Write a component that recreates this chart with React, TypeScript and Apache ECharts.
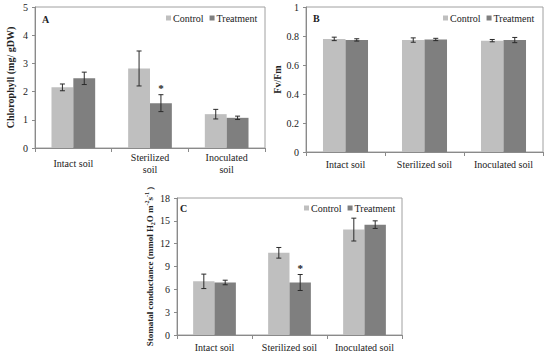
import React, { useEffect, useRef } from "react";
import * as echarts from "echarts";

const categoriesA = ["Intact soil", "Sterilized\nsoil", "Inoculated\nsoil"];
const categoriesBC = ["Intact soil", "Sterilized soil", "Inoculated soil"];

const chlControl = [2.15, 2.82, 1.2];
const chlControlErr = [0.12, 0.62, 0.17];
const chlTreat = [2.47, 1.59, 1.07];
const chlTreatErr = [0.22, 0.3, 0.06];
const chlTreatStar = [0, 1, 0];

const fvControl = [0.78, 0.772, 0.768];
const fvControlErr = [0.012, 0.015, 0.008];
const fvTreat = [0.773, 0.776, 0.772];
const fvTreatErr = [0.008, 0.008, 0.018];

const gsControl = [7.05, 10.8, 13.85];
const gsControlErr = [0.95, 0.7, 1.5];
const gsTreat = [6.9, 6.9, 14.5];
const gsTreatErr = [0.3, 1.05, 0.5];
const gsTreatStar = [0, 1, 0];

const yTicksA = { min: 0, max: 5, interval: 1 };
const yTicksB = { min: 0, max: 1, interval: 0.2 };
const yTicksC = { min: 0, max: 18, interval: 3 };

const FONT = "'Liberation Serif', 'Times New Roman', serif";
const C_CONTROL = "#BFBFBF";
const C_TREAT = "#7F7F7F";
const BAR_FRAC = 0.285;

function errData(vals: number[], errs: number[], side: number, stars?: number[]) {
  return vals.map((v, i) => [i, v, errs[i], side, stars ? stars[i] : 0]);
}

const renderErr = (params: any, api: any) => {
  const ci = api.value(0);
  const v = api.value(1);
  const e = api.value(2);
  const side = api.value(3);
  const star = api.value(4);
  const bw = api.size([1, 0])[0];
  const c = api.coord([ci, v]);
  const x = c[0] + (side * bw * BAR_FRAC) / 2;
  const yTop = api.coord([ci, v + e])[1];
  const yBot = api.coord([ci, v - e])[1];
  const cap = 2.5;
  const st = { stroke: "#2a2a2a", lineWidth: 1 };
  const children: any[] = [
    { type: "line", shape: { x1: x, y1: yTop, x2: x, y2: yBot }, style: st },
    { type: "line", shape: { x1: x - cap, y1: yTop, x2: x + cap, y2: yTop }, style: st },
    { type: "line", shape: { x1: x - cap, y1: yBot, x2: x + cap, y2: yBot }, style: st },
  ];
  if (star) {
    children.push({
      type: "text",
      x: x,
      y: yTop - 1,
      style: {
        text: "*",
        textAlign: "center",
        textVerticalAlign: "bottom",
        font: `bold 11px ${FONT}`,
        fill: "#222",
      },
    });
  }
  return { type: "group", children };
};

export default function App() {
  const ref = useRef<HTMLDivElement>(null);
  useEffect(() => {
    if (!ref.current) return;
    const chart = echarts.init(ref.current, undefined, { renderer: "svg" });
    const axisLine = { show: true, lineStyle: { color: "#8a8a8a", width: 1 } };
    const axisLabel = { fontFamily: FONT, fontSize: 10, color: "#222" };
    const yAxisBase = (idx: number, t: any, name: string, gap: number, extra: any = {}) => ({
      type: "value",
      gridIndex: idx,
      min: t.min,
      max: t.max,
      interval: t.interval,
      splitLine: { show: false },
      axisLine,
      axisTick: { show: true, length: 3, lineStyle: { color: "#8a8a8a" } },
      axisLabel: { ...axisLabel, margin: 7 },
      name,
      nameLocation: "middle",
      nameGap: gap,
      nameTextStyle: { fontFamily: FONT, fontSize: 10, fontWeight: "bold", color: "#222" },
      ...extra,
    });
    const xAxisBase = (idx: number, data: string[], extra: any = {}) => ({
      type: "category",
      gridIndex: idx,
      data,
      axisLine,
      axisTick: { show: true, length: 4, lineStyle: { color: "#8a8a8a" } },
      axisLabel: { ...axisLabel, margin: 7, lineHeight: 11, interval: 0, hideOverlap: false },
      ...extra,
    });
    const legendBase = (left: number, top: number) => ({
      left,
      top,
      padding: 0,
      icon: "rect",
      itemWidth: 5,
      itemHeight: 5,
      itemGap: 6,
      selectedMode: false,
      data: ["Control", "Treatment"],
      textStyle: { fontFamily: FONT, fontSize: 10, color: "#222", padding: [0, 0, 0, -3] },
    });
    const bar = (name: string, idx: number, data: number[], color: string) => ({
      type: "bar",
      name,
      xAxisIndex: idx,
      yAxisIndex: idx,
      data,
      barWidth: BAR_FRAC * 100 + "%",
      barGap: "0%",
      itemStyle: { color },
    });
    const err = (idx: number, data: any[]) => ({
      type: "custom",
      xAxisIndex: idx,
      yAxisIndex: idx,
      renderItem: renderErr,
      data,
      z: 5,
      silent: true,
    });
    chart.setOption({
      animation: false,
      textStyle: { fontFamily: FONT },
      grid: [
        { left: 35, top: 7, width: 230, height: 141, show: true, borderColor: "#a0a0a0", borderWidth: 1 },
        { left: 306, top: 7, width: 237, height: 145, show: true, borderColor: "#a0a0a0", borderWidth: 1 },
        { left: 177, top: 198, width: 225, height: 137, show: true, borderColor: "#a0a0a0", borderWidth: 1 },
      ],
      legend: [legendBase(166, 13), legendBase(443, 13), legendBase(304, 203)],
      xAxis: [
        xAxisBase(0, categoriesA, {
          axisLabel: { ...axisLabel, margin: 15, lineHeight: 12, verticalAlign: "middle", interval: 0, hideOverlap: false },
        }),
        xAxisBase(1, categoriesBC),
        xAxisBase(2, categoriesBC),
      ],
      yAxis: [
        yAxisBase(0, yTicksA, "Chlorophyll (mg/ gDW)", 20),
        yAxisBase(1, yTicksB, "Fv/Fm", 20),
        yAxisBase(2, yTicksC, "{b|Stomatal conductance (mmol H}{sub|2}{b|O m}{sup|-2}{b|s}{sup|-1}{b| )}", 19, {
          nameTextStyle: {
            fontFamily: FONT,
            color: "#222",
            rich: {
              b: { fontFamily: FONT, fontSize: 9, fontWeight: "bold", color: "#222", lineHeight: 12, verticalAlign: "middle" },
              sub: { fontFamily: FONT, fontSize: 6, fontWeight: "bold", color: "#222", lineHeight: 12, verticalAlign: "bottom" },
              sup: { fontFamily: FONT, fontSize: 6, fontWeight: "bold", color: "#222", lineHeight: 12, verticalAlign: "top" },
            },
          },
        }),
      ],
      graphic: [
        { type: "text", x: 42, y: 19, style: { text: "A", font: `bold 10px ${FONT}`, fill: "#222", textVerticalAlign: "middle" } },
        { type: "text", x: 313, y: 18, style: { text: "B", font: `bold 10px ${FONT}`, fill: "#222", textVerticalAlign: "middle" } },
        { type: "text", x: 180, y: 208, style: { text: "C", font: `bold 10px ${FONT}`, fill: "#222", textVerticalAlign: "middle" } },
      ],
      series: [
        bar("Control", 0, chlControl, C_CONTROL),
        bar("Treatment", 0, chlTreat, C_TREAT),
        bar("Control", 1, fvControl, C_CONTROL),
        bar("Treatment", 1, fvTreat, C_TREAT),
        bar("Control", 2, gsControl, C_CONTROL),
        bar("Treatment", 2, gsTreat, C_TREAT),
        err(0, [...errData(chlControl, chlControlErr, -1), ...errData(chlTreat, chlTreatErr, 1, chlTreatStar)]),
        err(1, [...errData(fvControl, fvControlErr, -1), ...errData(fvTreat, fvTreatErr, 1)]),
        err(2, [...errData(gsControl, gsControlErr, -1), ...errData(gsTreat, gsTreatErr, 1, gsTreatStar)]),
      ],
    });
    return () => chart.dispose();
  }, []);
  return (
    <div
      ref={ref}
      style={{ position: "fixed", left: 0, top: 0, width: 550, height: 354, background: "#fff" }}
    />
  );
}
